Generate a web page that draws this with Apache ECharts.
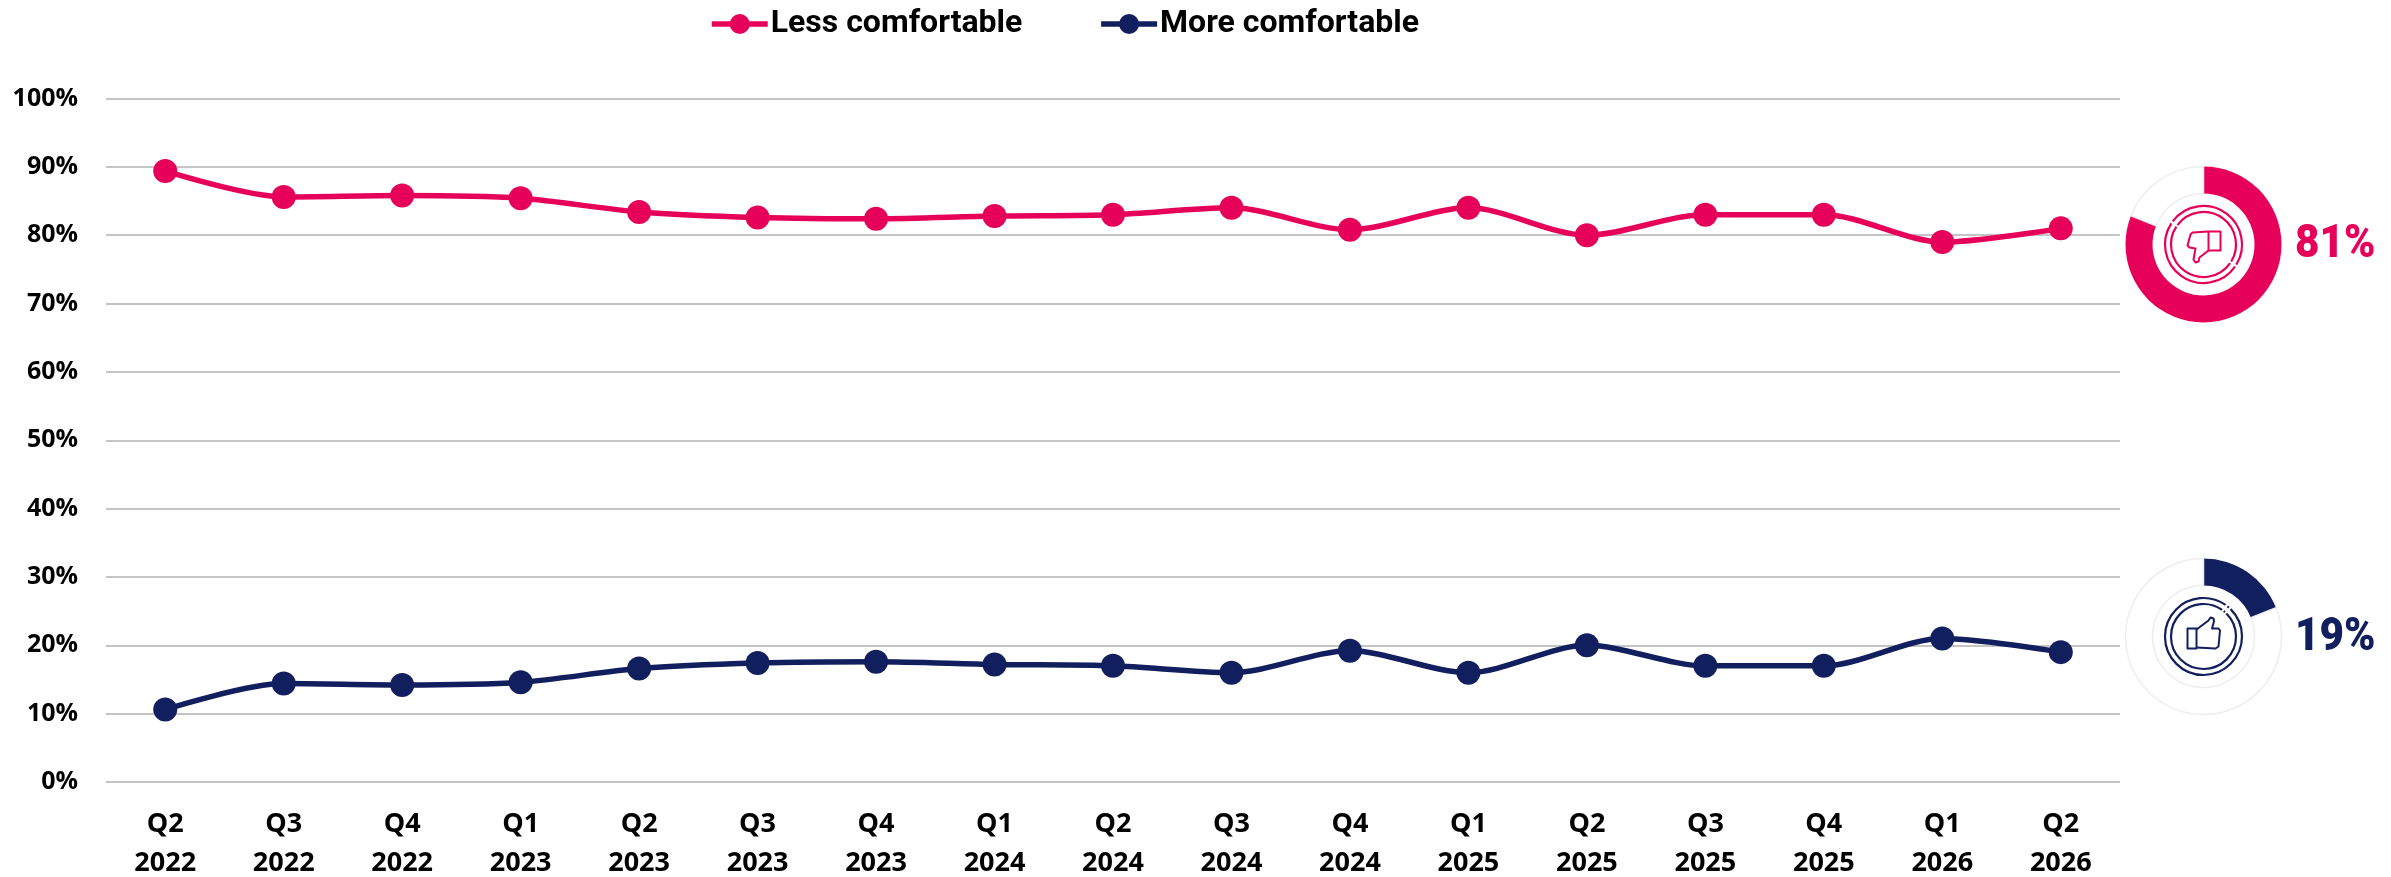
<!DOCTYPE html>
<html><head><meta charset="utf-8">
<style>html,body{margin:0;padding:0;background:#fff}#c{width:2391px;height:877px}</style>
<script src="https://cdn.jsdelivr.net/npm/echarts@6/dist/echarts.min.js"></script>
</head><body><div id="c"></div>
<script>
const quarters=['Q2','Q3','Q4','Q1','Q2','Q3','Q4','Q1','Q2','Q3','Q4','Q1','Q2','Q3','Q4','Q1','Q2'];
const years=[2022,2022,2022,2023,2023,2023,2023,2024,2024,2024,2024,2025,2025,2025,2025,2026,2026];
const lessComfortable=[89.4,85.6,85.8,85.4,83.4,82.6,82.4,82.8,83,84,80.8,84,80,83,83,79,81];
const moreComfortable=[10.6,14.4,14.2,14.6,16.6,17.4,17.6,17.2,17,16,19.2,16,20,17,17,21,19];
const latestLess=81, latestMore=19;
const seriesNames=['Less comfortable','More comfortable'];
const PINK='#e6005a', NAVY='#121f5e';
const categories=quarters.map((q,i)=>q+'\n'+years[i]);
const chart=echarts.init(document.getElementById('c'),null,{renderer:'canvas'});
function line(name,data,color){return {name,type:'line',data,smooth:0.3,symbol:'circle',symbolSize:24,
  lineStyle:{color,width:5.5},itemStyle:{color},silent:true,z:3};}
function donut(cy,val,color){return {type:'pie',center:[2203.5,cy],radius:[51,78],startAngle:90,clockwise:true,silent:true,
  label:{show:false},labelLine:{show:false},legendHoverLink:false,z:4,
  data:[{value:val,itemStyle:{color}},{value:100-val,itemStyle:{color:'#fff',borderColor:'#eeeeee',borderWidth:1.5}}]};}
function icon(cy,color,hand,cuff,gaps){
  const st={fill:'none',stroke:color,lineWidth:2,lineJoin:'round'};
  const els=[];
  [[38.5,gaps[0]],[32.5,gaps[1]]].forEach(([r,g])=>{
    els.push({type:'arc',x:2203.5,y:cy,shape:{cx:0,cy:0,r,startAngle:g[0],endAngle:g[1]},style:Object.assign({},st,{lineWidth:2.2}),silent:true,z:10});
    els.push({type:'arc',x:2203.5,y:cy,shape:{cx:0,cy:0,r,startAngle:g[1]+0.06,endAngle:g[0]-0.06+Math.PI*2},style:Object.assign({},st,{lineWidth:2.2}),silent:true,z:10});
  });
  els.push({type:'polyline',x:2203.5,y:cy,shape:{points:hand},style:st,silent:true,z:10});
  els.push({type:'polygon',x:2203.5,y:cy,shape:{points:cuff},style:st,silent:true,z:10});
  return els;
}
function pct(cy,val,color){return {type:'text',x:2295,y:cy,silent:true,z:10,scaleX:0.9,
  style:{text:val+'%',fill:color,font:'900 47px Roboto',verticalAlign:'middle',align:'left'}};}
const handDown=[[5,-13],[-11,-12],[-13,-10],[-16,1],[-14,3],[-8,4],[-10,15],[-8,18],[-5,17],[-4,13],[5,6]];
const cuffDown=[[5,-13],[17,-13],[17,6],[5,6]];
const handUp=[[-7,-7],[5,-16],[7,-19],[10,-18],[10.5,-15],[8.5,-8],[15,-8],[16.5,-6],[15,10],[12,12],[-7,11]];
const cuffUp=[[-7,-8],[-16,-8],[-16,12],[-7,12]];
chart.setOption({
  animation:false,backgroundColor:'#fff',
  legend:{left:704,top:3,data:seriesNames,itemWidth:56,itemHeight:25,itemGap:76,selectedMode:false,
    lineStyle:{width:5.5},
    textStyle:{color:'#000',fontSize:32,fontWeight:'bold',fontFamily:'Roboto',padding:[0,0,0,-2]}},
  grid:{left:106,right:271,top:98.5,bottom:95,outerBoundsMode:'none'},
  xAxis:{type:'category',data:categories,boundaryGap:true,axisLine:{show:false},axisTick:{show:false},
    axisLabel:{color:'#000',fontFamily:'Open Sans',fontWeight:'bold',fontSize:27,lineHeight:39,margin:23,interval:0}},
  yAxis:{type:'value',min:0,max:100,interval:10,axisLine:{show:false},axisTick:{show:false},
    splitLine:{lineStyle:{color:'#c4c4c4',width:2}},
    axisLabel:{color:'#000',fontFamily:'Open Sans',fontWeight:'bold',fontSize:25,margin:28,formatter:'{value}%'}},
  series:[line(seriesNames[0],lessComfortable,PINK),line(seriesNames[1],moreComfortable,NAVY),
    donut(244.5,latestLess,PINK),donut(636.5,latestMore,NAVY)],
  graphic:[].concat(
    icon(244.5,PINK,handDown,cuffDown,[[-2.5,0.55],[-2.5,0.55]]),
    icon(636.5,NAVY,handUp,cuffUp,[[-0.9,-0.85],[-0.9,-0.85]]),
    [pct(245.5,latestLess,PINK),pct(638,latestMore,NAVY)]
  )
});
</script></body></html>
